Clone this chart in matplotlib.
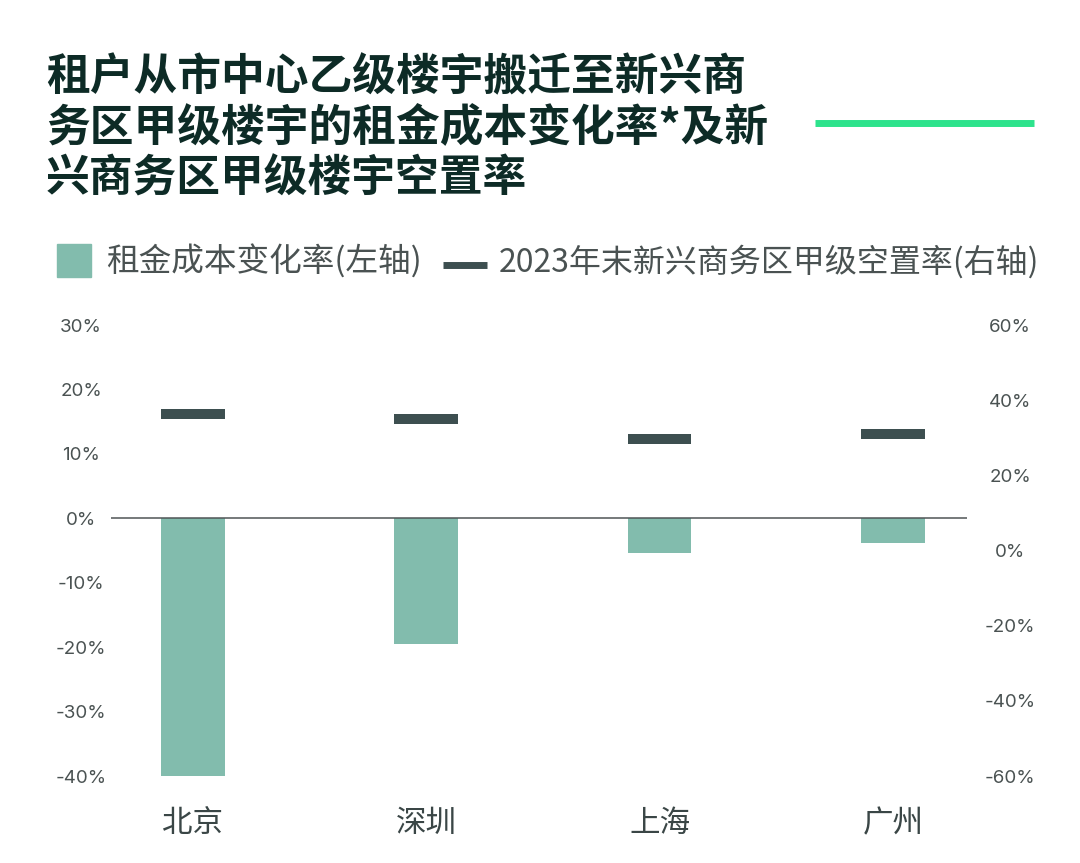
import matplotlib
matplotlib.use("Agg")
import matplotlib.pyplot as plt
from matplotlib.patches import Rectangle
from matplotlib.lines import Line2D

plt.rcParams['font.family'] = ['Noto Sans CJK SC', 'DejaVu Sans']

# ---- data ----
cities = ['北京', '深圳', '上海', '广州']
rent_change = [-40.0, -19.5, -5.4, -3.9]        # % left axis
vacancy_2023 = [36.2, 35.1, 29.8, 31.1]          # % right axis
left_ticks = [30, 20, 10, 0, -10, -20, -30, -40]
right_ticks = [60, 40, 20, 0, -20, -40, -60]
title_lines = ['租户从市中心乙级楼宇搬迁至新兴商',
               '务区甲级楼宇的租金成本变化率*及新',
               '兴商务区甲级楼宇空置率']
legend_labels = ['租金成本变化率(左轴)', '2023年末新兴商务区甲级空置率(右轴)']

BAR_C = '#82bcad'
DASH_C = '#3d4f50'
TXT_C = '#4a5252'
TITLE_C = '#0d2b26'
GREEN = '#2de38c'

W, H = 1080, 863
fig = plt.figure(figsize=(W / 100, H / 100), dpi=100)

def fx(px):
    return px / W

def fy(py):
    return 1 - py / H

ax_left, ax_right_px, ax_top, ax_bot = 111, 967, 325, 776
ax = fig.add_axes([fx(ax_left), fy(ax_bot), fx(ax_right_px - ax_left), (ax_bot - ax_top) / H])
ax2 = ax.twinx()

x = list(range(len(cities)))
bw = 0.272
ax.bar(x, rent_change, width=bw, color=BAR_C, zorder=2)
ax.axhline(0, color='#4f5556', lw=1.1, zorder=3)
ax.set_ylim(-40, 30)
ax.set_xlim(-0.351, 3.318)

ax2.hlines(vacancy_2023, [v - bw / 2 for v in x], [v + bw / 2 for v in x],
           colors=DASH_C, lw=7.2, capstyle='butt', zorder=3)
ax2.set_ylim(-60, 60)

for a in (ax, ax2):
    for s in a.spines.values():
        s.set_visible(False)
    a.patch.set_visible(False)

ax.set_yticks(left_ticks)
ax.set_yticklabels([f'{t}%' for t in left_ticks], fontfamily=['Inter', 'DejaVu Sans'],
                   fontsize=13.5, color=TXT_C)
ax.tick_params(axis='y', length=0, pad=21.5)
for lab in ax.get_yticklabels():
    lab.set_horizontalalignment('center')

ax2.set_yticks(right_ticks)
ax2.set_yticklabels([f'{t}%' for t in right_ticks], fontfamily=['Inter', 'DejaVu Sans'],
                    fontsize=13.5, color=TXT_C)
ax2.tick_params(axis='y', length=0, pad=31)
for lab in ax2.get_yticklabels():
    lab.set_horizontalalignment('center')

ax.set_xticks(x)
ax.set_xticklabels(cities, fontsize=22, color='#3a4646')
ax.tick_params(axis='x', length=0, pad=23)

# title
title_y = [77, 128, 179]
for line, ty in zip(title_lines, title_y):
    fig.text(fx(46), fy(ty), line, fontsize=31.5, fontweight='bold',
             color=TITLE_C, va='center', ha='left')

# green accent line
fig.add_artist(Line2D([fx(815), fx(1034)], [fy(123.5), fy(123.5)], color=GREEN,
                      lw=5, solid_capstyle='butt'))

# legend
fig.add_artist(Rectangle((fx(57), fy(277)), fx(34), 33 / H, color=BAR_C,
                         transform=fig.transFigure))
fig.text(fx(106), fy(262), legend_labels[0], fontsize=23.5, color=TXT_C, va='center', ha='left')
fig.add_artist(Line2D([fx(443), fx(487)], [fy(265), fy(265)], color=DASH_C,
                      lw=5, solid_capstyle='butt'))
fig.text(fx(499), fy(262), legend_labels[1], fontsize=23, color=TXT_C, va='center', ha='left')

fig.savefig('out.png', dpi=100, facecolor='white')
